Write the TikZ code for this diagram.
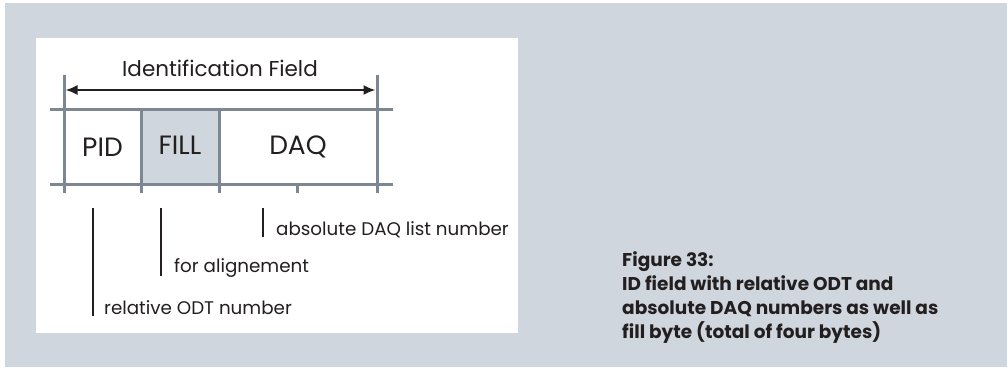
\documentclass[tikz,border=0pt]{standalone}
\usepackage{fontspec}
\setmainfont{Poppins}
\newfontfamily\lightf{Poppins}
\usetikzlibrary{arrows.meta}
\definecolor{bgc}{HTML}{CFD6DD}
\definecolor{gridc}{HTML}{7C8792}
\definecolor{txt}{HTML}{231F20}
\tikzset{
  gridline/.style={draw=gridc, line width=3pt},
  bar/.style={draw=txt, line width=2.6pt},
  celltxt/.style={font=\lightf\fontsize{26.5}{30}\selectfont, text=txt, inner sep=0pt},
  lbl/.style={font=\lightf\fontsize{18.3}{22}\selectfont, text=txt, inner sep=0pt, anchor=west},
}
\begin{document}
\begin{tikzpicture}[x=1pt,y=-1pt]
\useasboundingbox (0,0) rectangle (1007,367);
\fill[white] (0,0) rectangle (1007,367);
\fill[bgc] (5,3) rectangle (1007,367);
\fill[white] (36,38) rectangle (518,333);
% FILL cell
\fill[bgc] (141,109) rectangle (219,184);
% coordinates
\coordinate (l) at (64,75);
\coordinate (lb) at (64,193);
\coordinate (r) at (377,75);
\coordinate (rb) at (377,193);
\coordinate (h1a) at (50,109);
\coordinate (h1b) at (393,109);
\coordinate (h2a) at (50,184);
\coordinate (h2b) at (393,184);
\coordinate (v1a) at (141,109);
\coordinate (v1b) at (141,193);
\coordinate (v2a) at (219,109);
\coordinate (v2b) at (219,193);
\coordinate (tka) at (297,184);
\coordinate (tkb) at (297,193);
\draw[gridline] (l) -- (lb);
\draw[gridline] (r) -- (rb);
\draw[gridline] (h1a) -- (h1b);
\draw[gridline] (h2a) -- (h2b);
\draw[gridline] (v1a) -- (v1b);
\draw[gridline] (v2a) -- (v2b);
\draw[gridline] (tka) -- (tkb);
% arrow
\coordinate (al) at (65.5,90);
\coordinate (ar) at (375.5,90);
\draw[txt, line width=2pt, {Latex[length=12pt,width=10pt]}-{Latex[length=12pt,width=10pt]}] (al) -- (ar);
\node[font=\lightf\fontsize{21.5}{26}\selectfont, text=txt, inner sep=0pt] (title) at (220,68) {Identification Field};
% cell labels
\node[celltxt] (pid) at (102.5,147) {PID};
\node[celltxt] (fill) at (180,145) {FILL};
\node[celltxt] (daq) at (298,147) {DAQ};
% bars and labels
\coordinate (b1t) at (93,208);
\coordinate (b1b) at (93,316);
\coordinate (b2t) at (161,208);
\coordinate (b2b) at (161,276);
\coordinate (b3t) at (263,208);
\coordinate (b3b) at (263,237);
\draw[bar] (b1t) -- (b1b);
\draw[bar] (b2t) -- (b2b);
\draw[bar] (b3t) -- (b3b);
\node[lbl] (l3) at (276,230) {absolute DAQ list number};
\node[lbl] (l2) at (174,268) {for alignement};
\node[lbl] (l1) at (104,308) {relative ODT number};
% caption
\node[font=\bfseries\fontsize{18.5}{24}\selectfont, text=txt, inner sep=0pt, anchor=north west, align=left] (cap) at (622,251) {Figure 33:\\ID field with relative ODT and\\absolute DAQ numbers as well as\\fill byte (total of four bytes)};
\end{tikzpicture}
\end{document}
